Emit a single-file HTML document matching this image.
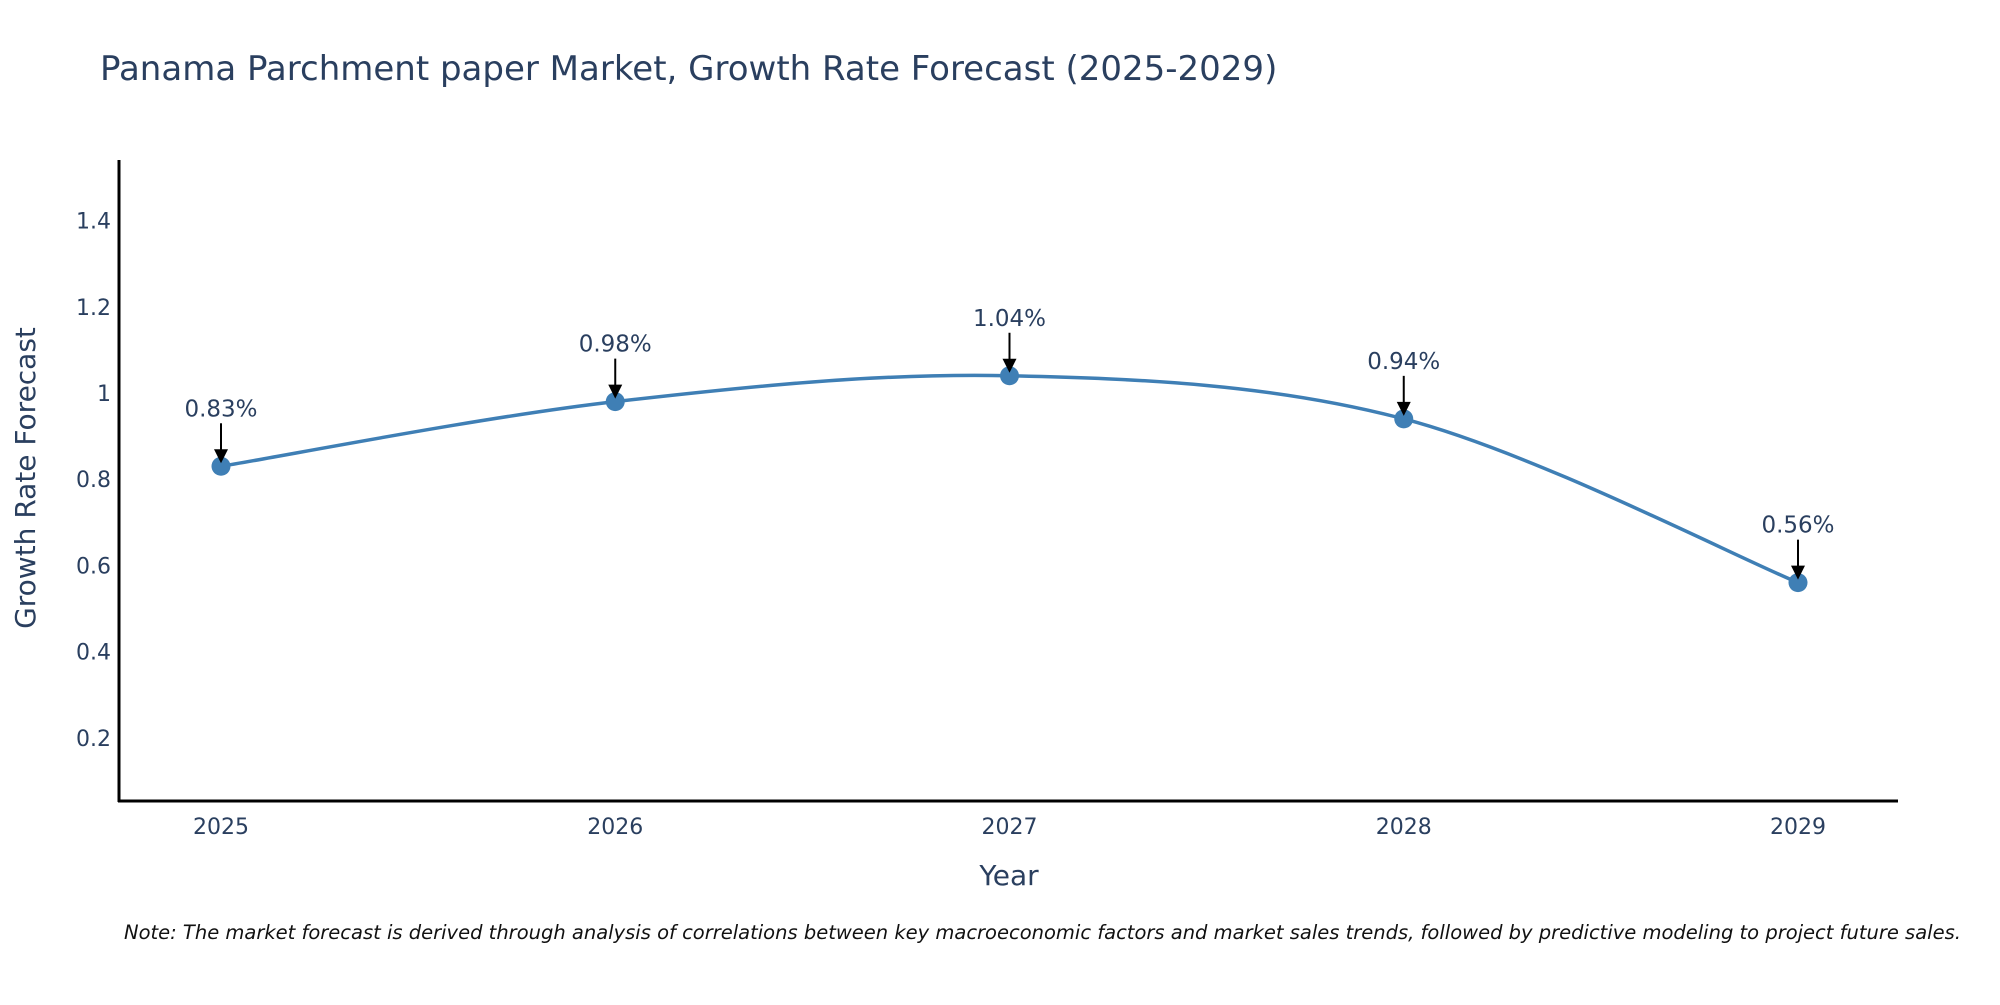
<!DOCTYPE html>
<html><head><meta charset="utf-8"><style>
html,body{margin:0;padding:0;background:#fff;overflow:hidden;}
svg text{font-family:"DejaVu Sans","Liberation Sans",sans-serif;fill:#2a3f5f;}
</style></head><body>
<svg id="chart" width="2000" height="1000" xmlns="http://www.w3.org/2000/svg">
<text x="100" y="80" font-size="34">Panama Parchment paper Market, Growth Rate Forecast (2025-2029)</text>
<g id="yticks"></g>
<g id="xticks"></g>
<line x1="119" y1="160" x2="119" y2="802" stroke="#000" stroke-width="3"/>
<line x1="118" y1="801" x2="1898" y2="801" stroke="#000" stroke-width="3"/>
<text transform="translate(35,478) rotate(-90)" text-anchor="middle" font-size="28">Growth Rate Forecast</text>
<text x="1009" y="885" text-anchor="middle" font-size="28">Year</text>
<g id="series"></g>
<text x="124" y="939" font-size="19.5" font-style="italic" style="fill:#111">Note: The market forecast is derived through analysis of correlations between key macroeconomic factors and market sales trends, followed by predictive modeling to project future sales.</text>
</svg>
<script>
const categories = ["2025","2026","2027","2028","2029"];
const values = [0.83, 0.98, 1.04, 0.94, 0.56];
const labels = ["0.83%","0.98%","1.04%","0.94%","0.56%"];
const yTicks = [0.2,0.4,0.6,0.8,1,1.2,1.4];
const yTickLabels = ["0.2","0.4","0.6","0.8","1","1.2","1.4"];
const NS="http://www.w3.org/2000/svg";
function yScale(v){return 824 - v*431;}
function xScale(i){return 221 + i*394.25;}
function mk(tag,attrs,parent){const e=document.createElementNS(NS,tag);for(const k in attrs)e.setAttribute(k,attrs[k]);parent.appendChild(e);return e;}
const yt=document.getElementById('yticks');
yTicks.forEach((v,i)=>{const t=mk('text',{x:111,y:yScale(v)+8,'text-anchor':'end','font-size':'22'},yt);


t.textContent=yTickLabels[i];});
const xt=document.getElementById('xticks');
categories.forEach((c,i)=>{const t=mk('text',{x:xScale(i),y:834,'text-anchor':'middle','font-size':'22'},xt);


t.textContent=c;});
const g=document.getElementById('series');
const pts=values.map((v,i)=>[xScale(i),yScale(v)]);
let d=`M${pts[0][0]},${pts[0][1]}`;
const s=1/6;
for(let i=0;i<pts.length-1;i++){const p0=pts[Math.max(0,i-1)],p1=pts[i],p2=pts[i+1],p3=pts[Math.min(pts.length-1,i+2)];
d+=` C${p1[0]+(p2[0]-p0[0])*s},${p1[1]+(p2[1]-p0[1])*s} ${p2[0]-(p3[0]-p1[0])*s},${p2[1]-(p3[1]-p1[1])*s} ${p2[0]},${p2[1]}`;}
const line=mk('path',{d:d,fill:'none',stroke:'#3f7fb5','stroke-width':'3.5'},g);


pts.forEach((p,i)=>{
const c=mk('circle',{cx:p[0],cy:p[1],r:9.5,fill:'#3f7fb5'},g);


const a=mk('line',{x1:p[0],y1:p[1]-43,x2:p[0],y2:p[1]-14,stroke:'#000','stroke-width':'2'},g);


const h=mk('polygon',{points:`${p[0]-7},${p[1]-17} ${p[0]+7},${p[1]-17} ${p[0]},${p[1]-3}`,fill:'#000'},g);


const t=mk('text',{x:p[0],y:p[1]-50,'text-anchor':'middle','font-size':'23'},g);


t.textContent=labels[i];
});
</script>
</body></html>
